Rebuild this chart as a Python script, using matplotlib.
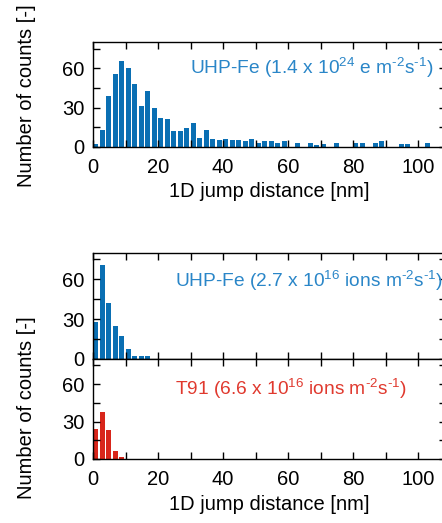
import numpy as np
import matplotlib
matplotlib.use("Agg")
import matplotlib.pyplot as plt
from matplotlib.ticker import FixedLocator

plt.rcParams['font.family'] = ['Liberation Sans', 'DejaVu Sans']
plt.rcParams['mathtext.fontset'] = 'custom'
plt.rcParams['mathtext.rm'] = 'Liberation Sans'
plt.rcParams['mathtext.it'] = 'Liberation Sans'
plt.rcParams['axes.unicode_minus'] = False

# ---- data: 2 nm bins, left edges ----
bin_width = 2.0
electron_counts = [2, 13, 39, 56, 66, 60, 48, 31, 43, 30, 22, 21, 12, 12, 14, 18, 7, 13,
                   6, 5, 6, 5, 5, 4, 6, 3, 4, 4, 3, 4, 0, 3, 0, 3, 1, 2,
                   0, 3, 0, 0, 3, 3, 0, 3, 4, 0, 0, 2, 2, 0, 0, 3, 0]
uhp_ion_counts = [28, 71, 42, 25, 17, 7.5, 2, 2, 2]
t91_ion_counts = [24, 37.5, 23, 6.5, 2]

HY = '\u2010'
label_top = 'UHP-Fe (1.4 x 10$^{24}$ e m$^{' + HY + '2}$s$^{' + HY + '1}$)'
label_mid = 'UHP-Fe (2.7 x 10$^{16}$ ions m$^{' + HY + '2}$s$^{' + HY + '1}$)'
label_bot = 'T91 (6.6 x 10$^{16}$ ions m$^{' + HY + '2}$s$^{' + HY + '1}$)'
xlabel = '1D jump distance [nm]'
ylabel = 'Number of counts [-]'

blue_bar = '#0a6fb3'
blue_txt = '#2a86c8'
red_bar = '#d8261b'
red_txt = '#e0392e'

FS = 14.5
FS_ANN = 13.8
W, H = 442, 523
fig = plt.figure(figsize=(W / 100, H / 100), dpi=100)

def px_axes(left, top, right, bottom):
    return fig.add_axes([left / W, 1 - bottom / H, (right - left) / W, (bottom - top) / H])

RIGHT = 446
XMAX = (RIGHT - 93) / 3.25
ax1 = px_axes(93, 42.3, RIGHT, 146.7)
ax2 = px_axes(93, 252.7, RIGHT, 359)
ax3 = px_axes(93, 359, RIGHT, 459)

def style(ax, show_xlabels):
    ax.set_xlim(0, XMAX)
    ax.set_ylim(0, 80)
    ax.xaxis.set_major_locator(FixedLocator([0, 20, 40, 60, 80, 100]))
    ax.xaxis.set_minor_locator(FixedLocator([10, 30, 50, 70, 90]))
    ax.yaxis.set_major_locator(FixedLocator([0, 30, 60]))
    ax.yaxis.set_minor_locator(FixedLocator([15, 45, 75]))
    ax.tick_params(which='both', direction='in', top=True, right=True,
                   length=5, width=1, labelsize=FS, color='black')
    ax.tick_params(axis='y', pad=6)
    ax.tick_params(axis='x', pad=8)
    if not show_xlabels:
        ax.tick_params(axis='x', labelbottom=False)
    for s in ax.spines.values():
        s.set_linewidth(1.0)

def bars(ax, counts, color):
    edges = np.arange(len(counts)) * bin_width
    ax.bar(edges, counts, width=1.65, align='edge', color=color, linewidth=0)

bars(ax1, electron_counts, blue_bar)
bars(ax2, uhp_ion_counts, blue_bar)
bars(ax3, t91_ion_counts, red_bar)

style(ax1, True)
style(ax2, False)
style(ax3, True)

ax1.set_xlabel(xlabel, fontsize=FS, labelpad=4)
ax3.set_xlabel(xlabel, fontsize=FS, labelpad=4)

ax1.text(30.0, 60, label_top, color=blue_txt, fontsize=FS_ANN, va='center', ha='left')
ax2.text(25.2, 59, label_mid, color=blue_txt, fontsize=FS_ANN, va='center', ha='left')
ax3.text(25.2, 56, label_bot, color=red_txt, fontsize=FS_ANN, va='center', ha='left')

fig.text(27 / W, 1 - 96 / H, ylabel, rotation=90, fontsize=FS, va='center', ha='center')
fig.text(27 / W, 1 - 408 / H, ylabel, rotation=90, fontsize=FS, va='center', ha='center')

fig.savefig('out.png', dpi=100)
